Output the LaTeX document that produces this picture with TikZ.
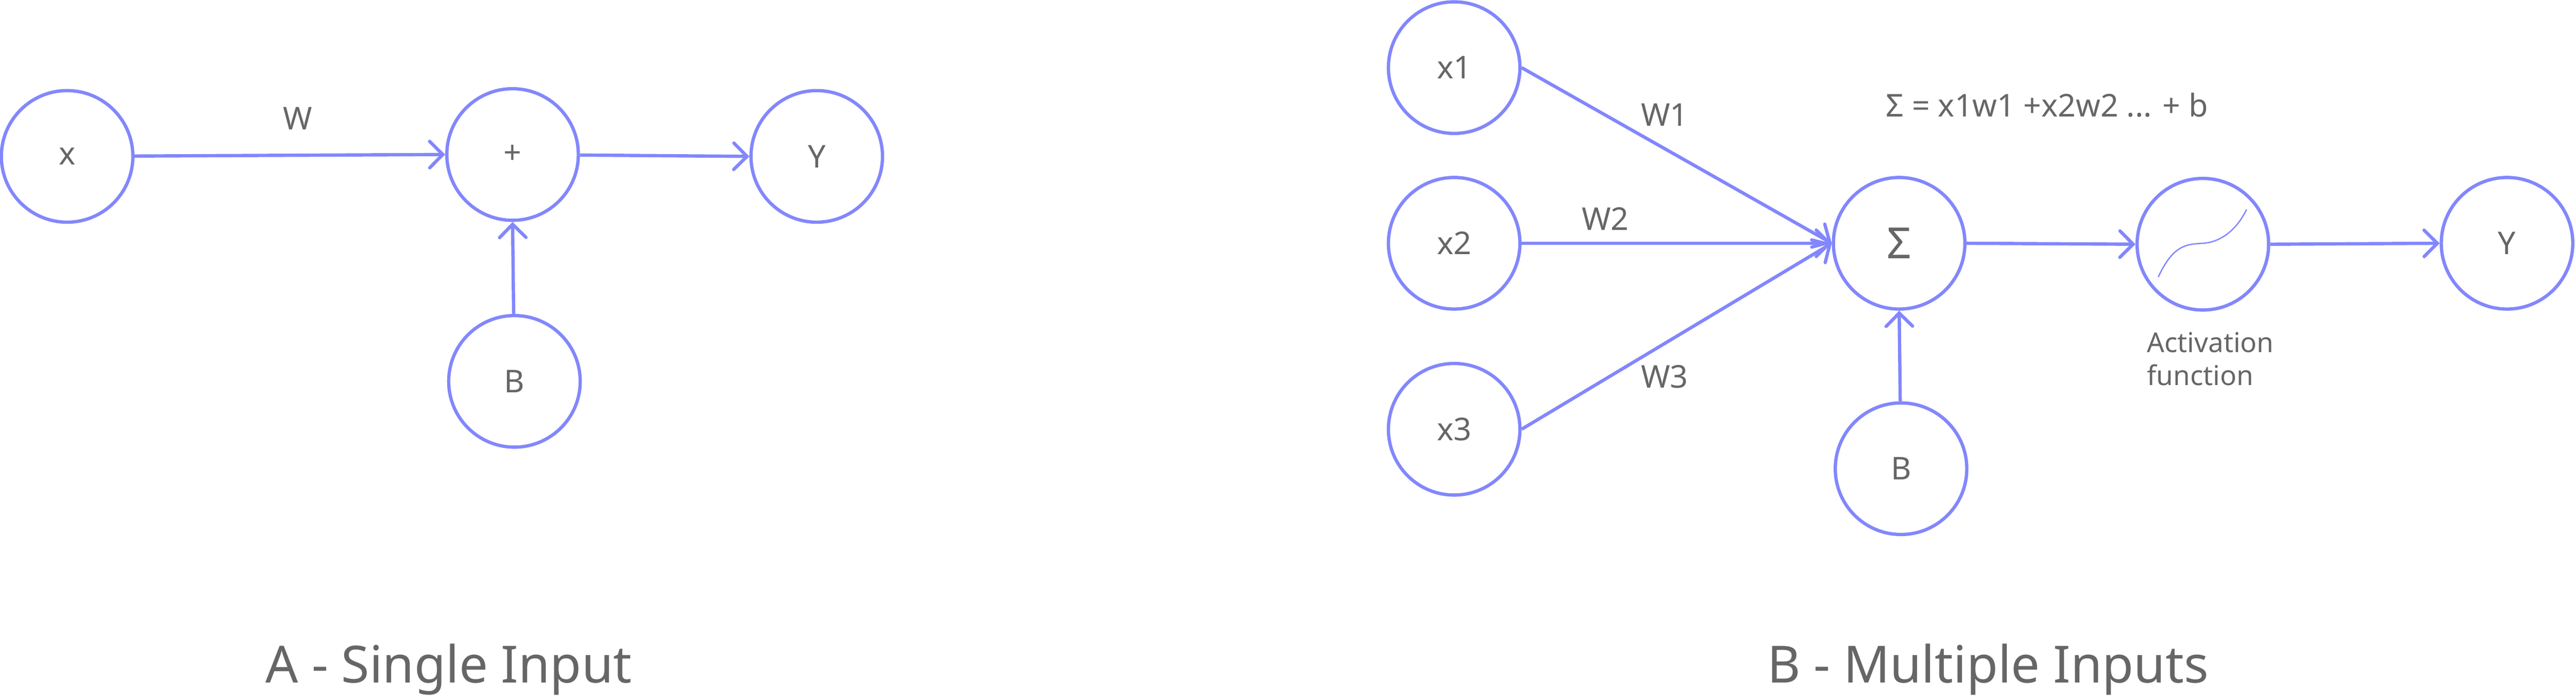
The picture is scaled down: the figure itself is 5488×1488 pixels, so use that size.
\documentclass[tikz,border=0pt]{standalone}
\usepackage{fontspec}
\setmainfont{Noto Sans}
\usetikzlibrary{arrows.meta}
\definecolor{lc}{HTML}{8287FC}
\definecolor{tc}{HTML}{666666}
\begin{document}
\begin{tikzpicture}[x=0.01cm,y=-0.01cm,
  neu/.style={circle,draw=lc,line width=2pt,minimum size=2.8cm,inner sep=0pt,text=tc,font=\fontsize{19}{22}\selectfont},
  con/.style={draw=lc,line width=2pt,-{Straight Barb[length=8pt,width=16pt,line width=2pt,line cap=round]}},
  lab/.style={text=tc,font=\fontsize{19}{22}\selectfont},
  ttl/.style={text=tc,font=\fontsize{31}{36}\selectfont}]
\useasboundingbox (0,0) rectangle (5488,1488);
\node[neu] (x) at (143,333) {x};
\node[neu] (p) at (1092,329) {+};
\node[neu] (y) at (1740,333) {Y};
\node[neu] (b) at (1096,812) {B};
\draw[con] (x) -- (p.west);
\draw[con] (p) -- (y.west);
\draw[con] (b) -- (p.south);
\node[lab] (w) at (634,252) {W};
\node[ttl] (ta) at (956,1425) {A - Single Input};

\node[neu] (x1) at (3098,144) {x1};
\node[neu] (x2) at (3098,518) {x2};
\node[neu] (x3) at (3098,914) {x3};
\node[neu,font=\fontsize{26}{30}\selectfont] (s) at (4046,518) {Σ};
\node[neu] (a) at (4693,520) {};
\node[neu] (y2) at (5341,518) {Y};
\node[neu] (b2) at (4050,998) {B};
\coordinate (sw) at (s.west);
\draw[con] (x1.east) -- (sw);
\draw[con] (x2.east) -- (sw);
\draw[con] (x3.east) -- (sw);
\draw[con] (s.east) -- (a.west);
\draw[con] (a.east) -- (y2.west);
\draw[con] (b2) -- (s.south);
\draw[lc,line width=0.8pt] (4598,590) .. controls (4630,520) and (4660,520) .. (4693,518) .. controls (4730,516) and (4765,490) .. (4786,446);
\node[lab] (w1) at (3546,245) {W1};
\node[lab] (w2) at (3420,466) {W2};
\node[lab] (w3) at (3546,802) {W3};
\node[lab] (f) at (4361,224) {Σ = x1w1 +x2w2 ... + b};
\node[lab,font=\fontsize{16.5}{20}\selectfont,align=left,anchor=north west] (af) at (4562,695) {Activation\\function};
\node[ttl] (tb) at (4235,1425) {B - Multiple Inputs};
\end{tikzpicture}
\end{document}
